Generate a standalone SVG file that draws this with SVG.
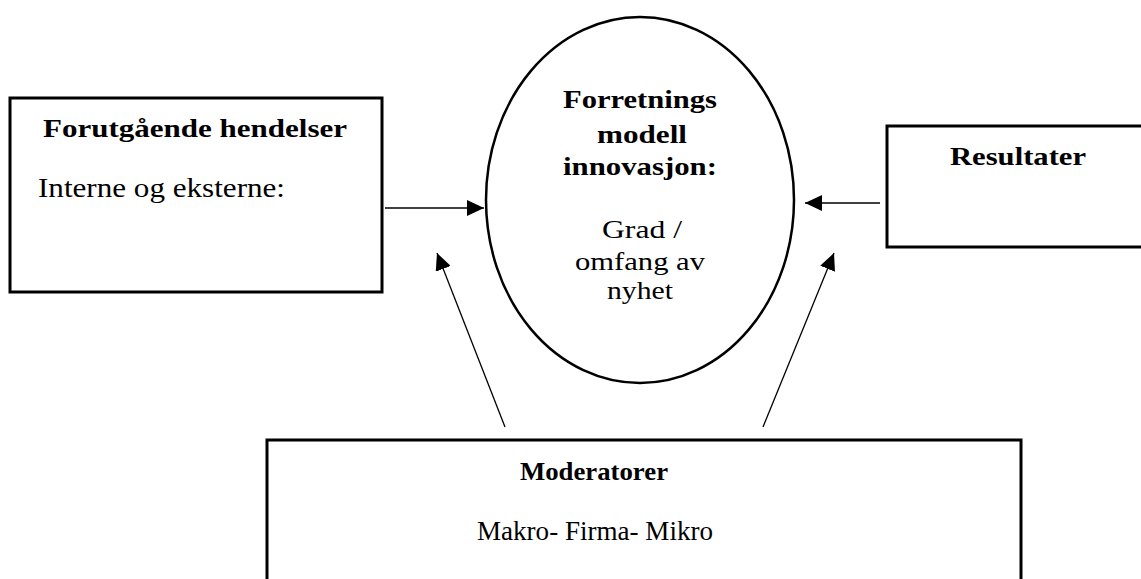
<svg xmlns="http://www.w3.org/2000/svg" width="1141" height="579" viewBox="0 0 1141 579">
  <style>
    .box { fill: #ffffff; stroke: #000000; stroke-width: 3; }
    .oval { fill: #ffffff; stroke: #000000; stroke-width: 2.5; }
    .conn { stroke: #000000; stroke-width: 1.3; fill: none; }
    .t { font-family: "Liberation Serif", "Times New Roman", serif; fill: #000000; }
    .b { font-weight: bold; }
    .c { text-anchor: middle; }
  </style>
  <defs>
    <marker id="arrow" markerUnits="userSpaceOnUse" markerWidth="18" markerHeight="16" refX="17" refY="8" orient="auto">
      <path d="M0,0 L17,8 L0,16 Z" fill="#000000"/>
    </marker>
  </defs>
  <rect width="1141" height="579" fill="#ffffff"/>

  <g id="node-forutgaende">
    <rect class="box" x="10" y="98" width="372" height="194"/>
    <text class="t b c" x="195" y="137" font-size="26" textLength="304" lengthAdjust="spacingAndGlyphs">Forutgående hendelser</text>
    <text class="t" x="38" y="197" font-size="27" textLength="247" lengthAdjust="spacingAndGlyphs">Interne og eksterne:</text>
  </g>

  <g id="node-forretningsmodell">
    <ellipse class="oval" cx="640" cy="200" rx="154" ry="183"/>
    <text class="t b c" x="640" y="108" font-size="25" textLength="154" lengthAdjust="spacingAndGlyphs">Forretnings</text>
    <text class="t b c" x="642" y="143" font-size="25" textLength="90" lengthAdjust="spacingAndGlyphs">modell</text>
    <text class="t b c" x="640" y="175" font-size="25" textLength="154" lengthAdjust="spacingAndGlyphs">innovasjon:</text>
    <text class="t c" x="642" y="238" font-size="26" textLength="80" lengthAdjust="spacingAndGlyphs">Grad /</text>
    <text class="t c" x="640" y="270" font-size="26" textLength="130" lengthAdjust="spacingAndGlyphs">omfang av</text>
    <text class="t c" x="640" y="299" font-size="26" textLength="66" lengthAdjust="spacingAndGlyphs">nyhet</text>
  </g>

  <g id="node-resultater">
    <rect class="box" x="887" y="126" width="260" height="121"/>
    <text class="t b c" x="1018" y="165" font-size="26" textLength="136" lengthAdjust="spacingAndGlyphs">Resultater</text>
  </g>

  <g id="node-moderatorer">
    <rect class="box" x="267" y="440" width="754" height="160"/>
    <text class="t b c" x="594" y="480" font-size="26" textLength="148" lengthAdjust="spacingAndGlyphs">Moderatorer</text>
    <text class="t c" x="595" y="540" font-size="27" textLength="236" lengthAdjust="spacingAndGlyphs">Makro- Firma- Mikro</text>
  </g>

  <g id="connectors">
    <line class="conn" x1="385" y1="208" x2="484" y2="208" marker-end="url(#arrow)"/>
    <line class="conn" x1="880" y1="203" x2="805" y2="203" marker-end="url(#arrow)"/>
    <line class="conn" x1="505" y1="427" x2="437" y2="253" marker-end="url(#arrow)"/>
    <line class="conn" x1="763" y1="427" x2="834" y2="253" marker-end="url(#arrow)"/>
  </g>
</svg>
